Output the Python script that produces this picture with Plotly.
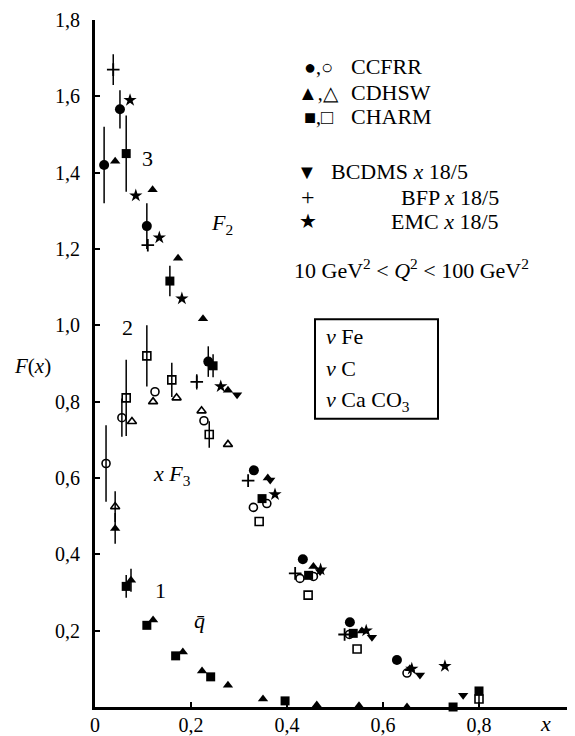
import plotly.graph_objects as go

# ---------------- data ----------------
# F2 (upper band)
ccfrr_f2_x = [0.019, 0.052, 0.108, 0.236, 0.331, 0.433, 0.531, 0.629]
ccfrr_f2_y = [1.42, 1.566, 1.26, 0.905, 0.62, 0.387, 0.222, 0.123]
ccfrr_f2_err = [0.10, 0.05, 0.06, 0.04, 0, 0, 0, 0]

cdhsw_f2_x = [0.042, 0.12, 0.173, 0.225, 0.277, 0.36, 0.455, 0.556, 0.656]
cdhsw_f2_y = [1.43, 1.355, 1.176, 1.017, 0.83, 0.60, 0.368, 0.199, 0.10]

charm_f2_x = [0.065, 0.156, 0.246, 0.348, 0.445, 0.538, 0.80]
charm_f2_y = [1.45, 1.116, 0.894, 0.546, 0.345, 0.193, 0.042]
charm_f2_err = [0.10, 0.04, 0.03, 0, 0, 0, 0]

bcdms_x = [0.296, 0.365, 0.469, 0.577, 0.677, 0.767]
bcdms_y = [0.818, 0.595, 0.355, 0.183, 0.084, 0.031]

bfp_x = [0.038, 0.11, 0.212, 0.319, 0.417, 0.52]
bfp_y = [1.67, 1.21, 0.852, 0.593, 0.35, 0.19]
bfp_err = [0.04, 0, 0.02, 0, 0, 0]

emc_x = [0.073, 0.085, 0.134, 0.181, 0.262, 0.375, 0.47, 0.565, 0.66, 0.729]
emc_y = [1.59, 1.34, 1.23, 1.07, 0.84, 0.557, 0.36, 0.20, 0.10, 0.107]

# xF3 (open symbols)
ccfrr_xf3_x = [0.023, 0.056, 0.125, 0.227, 0.33, 0.358, 0.427, 0.455, 0.53, 0.65]
ccfrr_xf3_y = [0.638, 0.758, 0.826, 0.75, 0.523, 0.533, 0.337, 0.342, 0.19, 0.089]
ccfrr_xf3_err = [0.10, 0.05, 0, 0, 0, 0, 0, 0, 0, 0]

cdhsw_xf3_x = [0.042, 0.077, 0.121, 0.17, 0.222, 0.277]
cdhsw_xf3_y = [0.525, 0.748, 0.80, 0.81, 0.776, 0.688]
cdhsw_xf3_err = [0.04, 0, 0, 0, 0, 0]

charm_xf3_x = [0.065, 0.108, 0.16, 0.238, 0.342, 0.444, 0.546, 0.80]
charm_xf3_y = [0.81, 0.92, 0.857, 0.714, 0.486, 0.293, 0.152, 0.021]
charm_xf3_err = [0.10, 0.08, 0.045, 0.035, 0, 0, 0, 0.025]

# anti-quark (lower band)
cdhsw_qbar_x = [0.042, 0.075, 0.121, 0.183, 0.223, 0.277, 0.35, 0.462, 0.55, 0.65]
cdhsw_qbar_y = [0.468, 0.332, 0.228, 0.144, 0.094, 0.057, 0.021, 0.005, 0.003, 0.0]
cdhsw_qbar_err = [0.04, 0.03, 0, 0, 0, 0, 0, 0, 0, 0]

charm_qbar_x = [0.065, 0.108, 0.168, 0.241, 0.396, 0.746]
charm_qbar_y = [0.316, 0.214, 0.134, 0.079, 0.016, 0.0]
charm_qbar_err = [0.03, 0, 0, 0, 0, 0]

x_ticks = [0, 0.2, 0.4, 0.6, 0.8]
x_tick_text = ["0", "0,2", "0,4", "0,6", "0,8"]
y_ticks = [0.2, 0.4, 0.6, 0.8, 1.0, 1.2, 1.4, 1.6, 1.8]
y_tick_text = ["0,2", "0,4", "0,6", "0,8", "1,0", "1,2", "1,4", "1,6", "1,8"]

# ---------------- layout constants ----------------
# the page body has an 8px default margin, so the figure is made 8px smaller
OFF = 8
W, H = 575 - OFF, 736 - OFF
ML, MR, MT, MB = 95 - OFF, 0, 20 - OFF, 27
PW, PH = W - ML - MR, H - MT - MB
FONT = "Liberation Serif"


def pp(xp, yp):
    # reference-picture pixel -> paper coordinates
    return (xp - 95) / PW, (709 - yp) / PH


fig = go.Figure()


def add(x, y, symbol, size, err=None, lw=0):
    tr = dict(x=x, y=y, mode="markers", cliponaxis=False, showlegend=False,
              marker=dict(symbol=symbol, size=size, color="black",
                          line=dict(width=lw, color="black")))
    if err is not None:
        tr["error_y"] = dict(type="data", array=err, visible=True, width=0,
                             thickness=1.5, color="black")
    fig.add_trace(go.Scatter(**tr))


add(ccfrr_f2_x, ccfrr_f2_y, "circle", 10, ccfrr_f2_err)
add(cdhsw_f2_x, cdhsw_f2_y, "triangle-up", 9)
add(charm_f2_x, charm_f2_y, "square", 9, charm_f2_err)
add(bcdms_x, bcdms_y, "triangle-down", 9)
add(bfp_x, bfp_y, "cross-thin", 9, bfp_err, lw=1.8)
add(emc_x, emc_y, "star", 10)
add(ccfrr_xf3_x, ccfrr_xf3_y, "circle-open", 8, ccfrr_xf3_err, lw=1.6)
add(cdhsw_xf3_x, cdhsw_xf3_y, "triangle-up-open", 8, cdhsw_xf3_err, lw=1.6)
add(charm_xf3_x, charm_xf3_y, "square-open", 8, charm_xf3_err, lw=1.6)
add(cdhsw_qbar_x, cdhsw_qbar_y, "triangle-up", 9, cdhsw_qbar_err)
add(charm_qbar_x, charm_qbar_y, "square", 9, charm_qbar_err)

ann = []


def text(xp, yp, s, size=21, anchor="center"):
    x, y = pp(xp, yp)
    ann.append(dict(x=x, y=y, xref="paper", yref="paper", text=s, showarrow=False,
                    xanchor=anchor, yanchor="middle", borderpad=0,
                    font=dict(family=FONT, size=size, color="black")))


# legend block
text(318, 67, "●,○", 20)
text(350, 67, "CCFRR", 22, "left")
text(318, 93, "▲,△", 20)
text(350, 93, "CDHSW", 22, "left")
text(318, 117, "■,□", 20)
text(350, 117, "CHARM", 22, "left")
text(307, 172, "▼", 20)
text(330, 172, "BCDMS <i>x</i> 18/5", 22, "left")
text(308, 198, "+", 24)
text(500, 198, "BFP <i>x</i> 18/5", 22, "right")
text(308, 222, "★", 20)
text(500, 222, "EMC <i>x</i> 18/5", 22, "right")
text(411, 270, "10 GeV<sup>2</sup> &lt; <i>Q</i><sup>2</sup> &lt; 100 GeV<sup>2</sup>", 22)
text(325, 337, "<i>ν</i> Fe", 22, "left")
text(325, 370, "<i>ν</i> C", 22, "left")
text(325, 402, "<i>ν</i> Ca CO<sub>3</sub>", 22, "left")

# curve labels
text(147, 159, "3", 22)
text(222, 225, "<i>F</i><sub>2</sub>", 22)
text(127, 328, "2", 22)
text(172, 476, "<i>x F</i><sub>3</sub>", 22)
text(160, 592, "1", 22)
text(199, 622, "<i>q̄</i>", 22)
text(32, 367, "<i>F</i>(<i>x</i>)", 21)
text(545, 726, "<i>x</i>", 22)

x0, y0 = pp(315, 420)
x1, y1 = pp(438, 320)

fig.update_layout(
    width=W, height=H,
    margin=dict(l=ML, r=MR, t=MT, b=MB, pad=0),
    paper_bgcolor="white", plot_bgcolor="white",
    annotations=ann,
    shapes=[dict(type="rect", xref="paper", yref="paper", x0=x0, x1=x1, y0=y0, y1=y1,
                 line=dict(color="black", width=2))],
    xaxis=dict(range=[0, 1.0], showgrid=False, zeroline=False, showline=True,
               linecolor="black", linewidth=3, ticks="inside", ticklen=5, tickwidth=1.5,
               tickcolor="black", tickvals=x_ticks, ticktext=x_tick_text,
               tickfont=dict(family=FONT, size=20, color="black"), ticklabelstandoff=-2),
    yaxis=dict(range=[0, 1.8], showgrid=False, zeroline=False, showline=True,
               linecolor="black", linewidth=3, ticks="inside", ticklen=5, tickwidth=1.5,
               tickcolor="black", tickvals=y_ticks, ticktext=y_tick_text,
               tickfont=dict(family=FONT, size=20, color="black"), ticklabelstandoff=8),
)

fig.write_html("out.html")
